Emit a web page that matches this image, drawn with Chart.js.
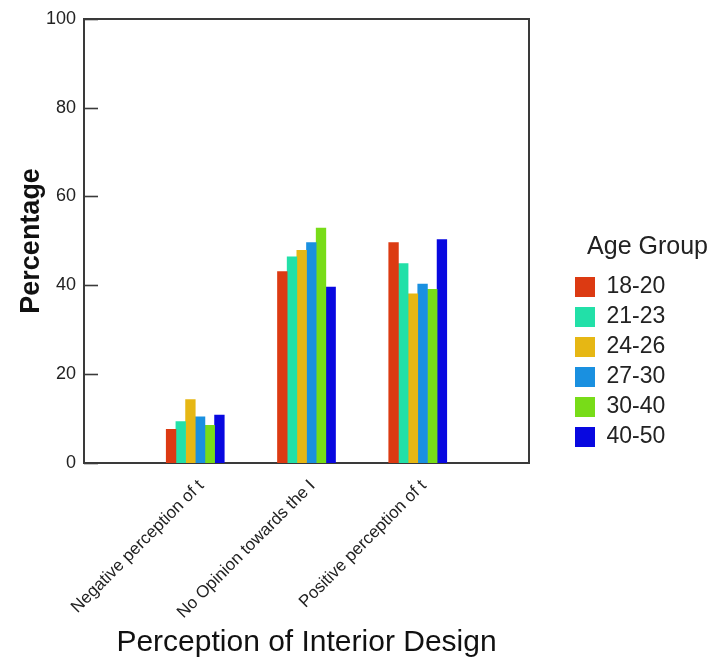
<!DOCTYPE html>
<html>
<head>
<meta charset="utf-8">
<script src="https://cdn.jsdelivr.net/npm/chart.js@4/dist/chart.umd.min.js"></script>
<style>
html,body{margin:0;padding:0;background:#fff;}
#wrap{width:710px;height:662px;position:relative;}
</style>
</head>
<body>
<div id="wrap"><canvas id="c"></canvas></div>
<script>
const categories = ['Negative perception of t', 'No Opinion towards the I', 'Positive perception of t'];
const ageGroups = ['18-20', '21-23', '24-26', '27-30', '30-40', '40-50'];
const age18_20 = [7.6, 43.1, 49.6];
const age21_23 = [9.3, 46.4, 44.9];
const age24_26 = [14.3, 47.9, 38.1];
const age27_30 = [10.4, 49.6, 40.3];
const age30_40 = [8.5, 52.9, 39.1];
const age40_50 = [10.8, 39.6, 50.3];
const yTicks = [0, 20, 40, 60, 80, 100];

const seriesValues = [age18_20, age21_23, age24_26, age27_30, age30_40, age40_50];
const colors = ['#DC3A12', '#22E0A8', '#E6B714', '#1A90E0', '#78DC18', '#0808E0'];

const FONT = '"Liberation Sans", Arial, sans-serif';
const AXIS = '#3a3a3a';

const labels = ['', ...categories, ''];
const datasets = ageGroups.map((g, i) => ({
  label: g,
  data: [null, ...seriesValues[i], null],
  backgroundColor: colors[i],
  borderWidth: 0,
  barThickness: 9.67,
  xAxisID: 'x',
  yAxisID: 'y'
}));

const innerTicks = {
  id: 'innerTicks',
  afterDraw(chart) {
    const y = chart.scales.y;
    const ctx = chart.ctx;
    const left = chart.chartArea.left;
    ctx.save();
    ctx.strokeStyle = AXIS;
    ctx.lineWidth = 1.6;
    yTicks.forEach(v => {
      const py = Math.round(y.getPixelForValue(v)) + 0.5;
      ctx.beginPath();
      ctx.moveTo(left, py);
      ctx.lineTo(left + 14, py);
      ctx.stroke();
    });
    ctx.restore();
  }
};

// let the legend box reach to the right edge so its title fits (chart area already laid out)
const legendWiden = {
  id: 'legendWiden',
  afterLayout(chart) {
    const lg = chart.legend;
    if (!lg) return;
    lg.right = 708;
    lg.width = lg.right - lg.left;
  }
};

new Chart(document.getElementById('c'), {
  type: 'bar',
  data: { labels, datasets },
  options: {
    responsive: true,
    maintainAspectRatio: false,
    animation: false,
    layout: { padding: { left: 0, right: 42, top: 0, bottom: 0 } },
    plugins: {
      tooltip: { enabled: false },
      legend: {
        position: 'right',
        align: 'center',
        maxWidth: 100,
        title: {
          display: true,
          text: 'Age Group',
          position: 'end',
          color: '#222',
          font: { family: FONT, size: 25 },
          padding: { top: 28.5, bottom: 3.5 }
        },
        labels: {
          boxWidth: 20,
          boxHeight: 20,
          padding: 7,
          color: '#222',
          font: { family: FONT, size: 23 }
        }
      }
    },
    scales: {
      x: {
        type: 'category',
        position: 'bottom',
        offset: false,
        grid: { display: false, drawTicks: false },
        border: { display: true, color: AXIS, width: 2 },
        ticks: {
          autoSkip: false,
          minRotation: 45,
          maxRotation: 45,
          padding: 13,
          labelOffset: 6,
          color: '#222',
          font: { family: FONT, size: 17 }
        },
        title: {
          display: true,
          text: 'Perception of Interior Design',
          color: '#111',
          font: { family: FONT, size: 30 },
          padding: { top: 4, bottom: 1 }
        },
        afterFit(s) { s.height = 199; }
      },
      y: {
        type: 'linear',
        position: 'left',
        min: 0,
        max: 100,
        grid: { display: false, drawTicks: false },
        border: { display: true, color: AXIS, width: 2 },
        ticks: {
          stepSize: 20,
          padding: 8,
          color: '#222',
          font: { family: FONT, size: 18 }
        },
        title: {
          display: true,
          text: 'Percentage',
          color: '#111',
          font: { family: FONT, size: 27, weight: 'bold' },
          padding: { top: 15, bottom: 0 }
        },
        afterFit(s) { s.width = 84; }
      },
      x2: {
        type: 'linear',
        position: 'top',
        grid: { display: false, drawTicks: false },
        border: { display: true, color: AXIS, width: 2 },
        ticks: { display: false },
        afterFit(s) { s.height = 17; }
      },
      y2: {
        type: 'linear',
        position: 'right',
        grid: { display: false, drawTicks: false },
        border: { display: true, color: AXIS, width: 2 },
        ticks: { display: false },
        afterFit(s) { s.width = 39; }
      }
    }
  },
  plugins: [innerTicks, legendWiden]
});
</script>
</body>
</html>
